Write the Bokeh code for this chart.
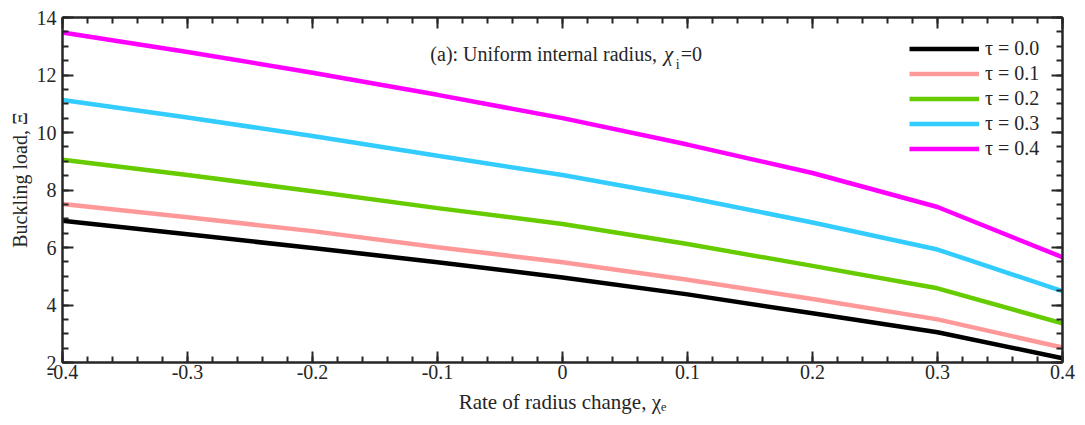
import numpy as np
from bokeh.plotting import figure
from bokeh.models import (Range1d, FixedTicker, LinearAxis, Label, Legend, LegendItem,
                          CustomLabelingPolicy)
from bokeh.embed import file_html
from bokeh.resources import INLINE

# ---- data ----
chi_e = [-0.4, -0.3, -0.2, -0.1, 0.0, 0.1, 0.2, 0.3, 0.4]
tau_00 = [6.93, 6.46, 5.98, 5.49, 4.96, 4.37, 3.71, 3.05, 2.15]
tau_01 = [7.51, 7.05, 6.57, 6.01, 5.49, 4.88, 4.21, 3.50, 2.52]
tau_02 = [9.05, 8.52, 7.96, 7.37, 6.82, 6.12, 5.36, 4.58, 3.36]
tau_03 = [11.13, 10.52, 9.88, 9.19, 8.52, 7.74, 6.87, 5.93, 4.48]
tau_04 = [13.48, 12.80, 12.08, 11.31, 10.50, 9.58, 8.59, 7.41, 5.66]
series_labels = ["\u03c4 = 0.0", "\u03c4 = 0.1", "\u03c4 = 0.2", "\u03c4 = 0.3", "\u03c4 = 0.4"]
series_colors = ["#000000", "#FF9999", "#66CC00", "#33CCFF", "#FF00FF"]
x_ticks = [-0.4, -0.3, -0.2, -0.1, 0.0, 0.1, 0.2, 0.3, 0.4]
x_tick_labels = ["-0.4", "-0.3", "-0.2", "-0.1", "0", "0.1", "0.2", "0.3", "0.4"]
y_ticks = [2, 4, 6, 8, 10, 12, 14]
y_tick_labels = ["2", "4", "6", "8", "10", "12", "14"]
x_title = "Rate of radius change, \u03c7\u2091"
y_title = "Buckling load, \u039e"

FONT = "Liberation Serif"
TXT = "#262626"
AX = "#262626"

# frame geometry (page pixels; figure sits at page origin)
W, H = 1085, 425
FL, FR, FT, FB = 62, 1068, 17, 362
X0, X1, Y0, Y1 = -0.4, 0.4, 2.0, 14.0

def px2x(px):
    return X0 + (px - FL) * (X1 - X0) / (FR - FL)

def py2y(py):
    return Y0 + (FB - py) * (Y1 - Y0) / (FB - FT)

p = figure(width=W, height=H, output_backend="svg", toolbar_location=None,
           x_range=Range1d(X0, X1), y_range=Range1d(Y0, Y1),
           min_border_left=FL, min_border_right=W - FR,
           min_border_top=FT, min_border_bottom=H - FB,
           x_axis_location=None, y_axis_location=None)
p.outline_line_color = None
p.xgrid.visible = False
p.ygrid.visible = False
p.background_fill_color = "white"
p.border_fill_color = "white"

xminor = [round(v, 2) for v in np.arange(-0.4, 0.4001, 0.02)]
yminor = [round(v, 1) for v in np.arange(2, 14.001, 0.5)]
xt = FixedTicker(ticks=x_ticks, minor_ticks=xminor)
yt = FixedTicker(ticks=y_ticks, minor_ticks=yminor)

hide_all = CustomLabelingPolicy(code="""
for (const i of indices) { indices.unset(i) }
return indices
""")

def style(ax, show_labels):
    ax.axis_line_color = AX
    ax.axis_line_width = 2.5
    ax.major_tick_line_color = AX
    ax.major_tick_line_width = 2
    ax.minor_tick_line_color = AX
    ax.minor_tick_line_width = 2
    ax.major_tick_in = 11
    ax.major_tick_out = 0
    ax.minor_tick_in = 6
    ax.minor_tick_out = 0
    ax.major_label_text_font = FONT
    ax.major_label_text_color = TXT
    ax.major_label_text_font_size = "20px"
    ax.axis_label_text_font = FONT
    ax.axis_label_text_font_size = "20px"
    ax.axis_label_text_font_style = "normal"
    ax.axis_label_text_color = TXT
    if not show_labels:
        ax.major_label_policy = hide_all
        ax.major_label_standoff = 0

bottom = LinearAxis(ticker=xt, axis_label=x_title,
                    major_label_overrides={v: s for v, s in zip(x_ticks, x_tick_labels)})
style(bottom, True)
bottom.major_label_standoff = 2
bottom.axis_label_standoff = 8
bottom.axis_label_text_font_size = "21px"
top = LinearAxis(ticker=xt)
style(top, False)
left = LinearAxis(ticker=yt, axis_label="\u00a0\u00a0\u00a0\u00a0" + y_title,
                  major_label_overrides={v: s for v, s in zip(y_ticks, y_tick_labels)})
style(left, True)
left.major_label_standoff = 6
left.axis_label_standoff = 3
right = LinearAxis(ticker=yt)
style(right, False)
p.add_layout(bottom, "below")
p.add_layout(top, "above")
p.add_layout(left, "left")
p.add_layout(right, "right")

series = [tau_00, tau_01, tau_02, tau_03, tau_04]
items = []
for ys, lab, col in zip(series, series_labels, series_colors):
    r = p.line(chi_e, ys, line_color=col, line_width=4.5)
    items.append(LegendItem(label=lab, renderers=[r]))

leg = Legend(items=items, location=(909 - FL, FB - 161), orientation="vertical")
leg.padding = 5
leg.margin = 0
leg.spacing = 0
leg.glyph_width = 70
leg.glyph_height = 25
leg.label_height = 25
leg.label_standoff = 6
leg.label_text_font = FONT
leg.label_text_font_size = "20px"
leg.label_text_color = TXT
leg.border_line_color = None
leg.background_fill_alpha = 0
p.add_layout(leg, "center")

def lab(text, px, py, size="20px", align="left", style_="normal"):
    p.add_layout(Label(x=px2x(px), y=py2y(py), text=text, text_font=FONT,
                       text_font_size=size, text_color=TXT, text_align=align,
                       text_baseline="alphabetic", text_font_style=style_))

# panel title inside the frame
lab("(a): Uniform internal radius,", 660, 53, align="right")
lab("\u03c7", 667, 53, size="21px", style_="italic")
lab("i", 679, 64, size="14px")
lab("=0", 684, 53)

open("out.html", "w").write(file_html(p, INLINE))
